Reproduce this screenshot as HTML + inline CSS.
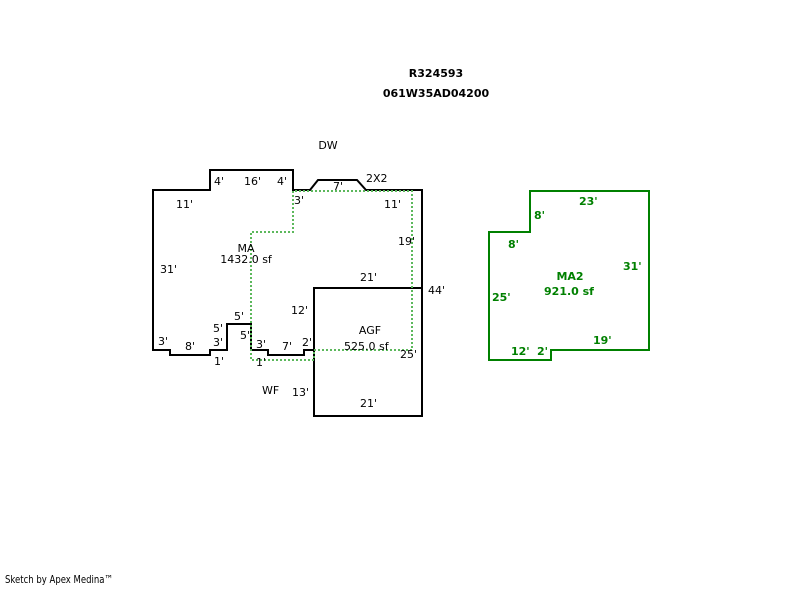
<!DOCTYPE html>
<html><head><style>
html,body{margin:0;padding:0;background:#fff;}
svg text{font-family:"DejaVu Sans",sans-serif;font-size:11px;}
</style></head><body>
<svg width="800" height="587" xmlns="http://www.w3.org/2000/svg">
<rect width="800" height="587" fill="#fff"/>
<text x="436" y="77" text-anchor="middle" font-weight="bold" font-size="12">R324593</text>
<text x="436" y="97" text-anchor="middle" font-weight="bold" font-size="12">061W35AD04200</text>
<text x="328" y="149" text-anchor="middle">DW</text>
<g fill="none" stroke="#000" stroke-width="2">
<polyline points="314,350 304,350 304,355 268,355 268,350 251,350 251,324 227,324 227,350 210,350 210,355 170,355 170,350 153,350 153,190 210,190 210,170 293,170 293,190 310,190 318,180 357,180 366,190 422,190 422,416 314,416 314,288 422,288"/>
<line x1="314" y1="288" x2="314" y2="350"/>
</g>
<polyline points="293,191 293,232 251,232 251,360 314,360 314,350 412,350 412,191 293,191" fill="none" stroke="#5cb85c" stroke-width="2" stroke-dasharray="2,2"/>
<g>
<text x="214" y="185">4'</text><text x="244" y="185">16'</text><text x="277" y="185">4'</text>
<text x="333" y="190">7'</text><text x="366" y="182">2X2</text>
<text x="176" y="208">11'</text><text x="294" y="204">3'</text><text x="384" y="208">11'</text>
<text x="398" y="245">19'</text>
<text x="246" y="252" text-anchor="middle">MA</text><text x="246" y="263" text-anchor="middle">1432.0 sf</text>
<text x="160" y="273">31'</text><text x="360" y="281">21'</text><text x="428" y="294">44'</text>
<text x="291" y="314">12'</text><text x="234" y="320">5'</text>
<text x="213" y="332">5'</text><text x="240" y="339">5'</text><text x="370" y="334" text-anchor="middle">AGF</text>
<text x="158" y="345">3'</text><text x="213" y="346">3'</text><text x="256" y="348">3'</text><text x="282" y="350">7'</text><text x="302" y="346">2'</text>
<text x="344" y="350">525.0 sf</text>
<text x="185" y="350">8'</text><text x="400" y="358">25'</text>
<text x="214" y="365">1'</text><text x="256" y="366">1'</text>
<text x="262" y="394">WF</text><text x="292" y="396">13'</text><text x="360" y="407">21'</text>
</g>
<polygon points="530,191 649,191 649,350 551,350 551,360 489,360 489,232 530,232" fill="none" stroke="#008000" stroke-width="2"/>
<g fill="#008000" font-weight="bold">
<text x="579" y="205">23'</text><text x="534" y="219">8'</text><text x="508" y="248">8'</text>
<text x="623" y="270">31'</text>
<text x="570" y="280" text-anchor="middle">MA2</text><text x="569" y="295" text-anchor="middle">921.0 sf</text>
<text x="492" y="301">25'</text><text x="593" y="344">19'</text>
<text x="511" y="355">12'</text><text x="537" y="355">2'</text>
</g>
<text x="5" y="583" font-size="7" textLength="108" lengthAdjust="spacingAndGlyphs">Sketch by Apex Medina™</text>
</svg>
</body></html>
